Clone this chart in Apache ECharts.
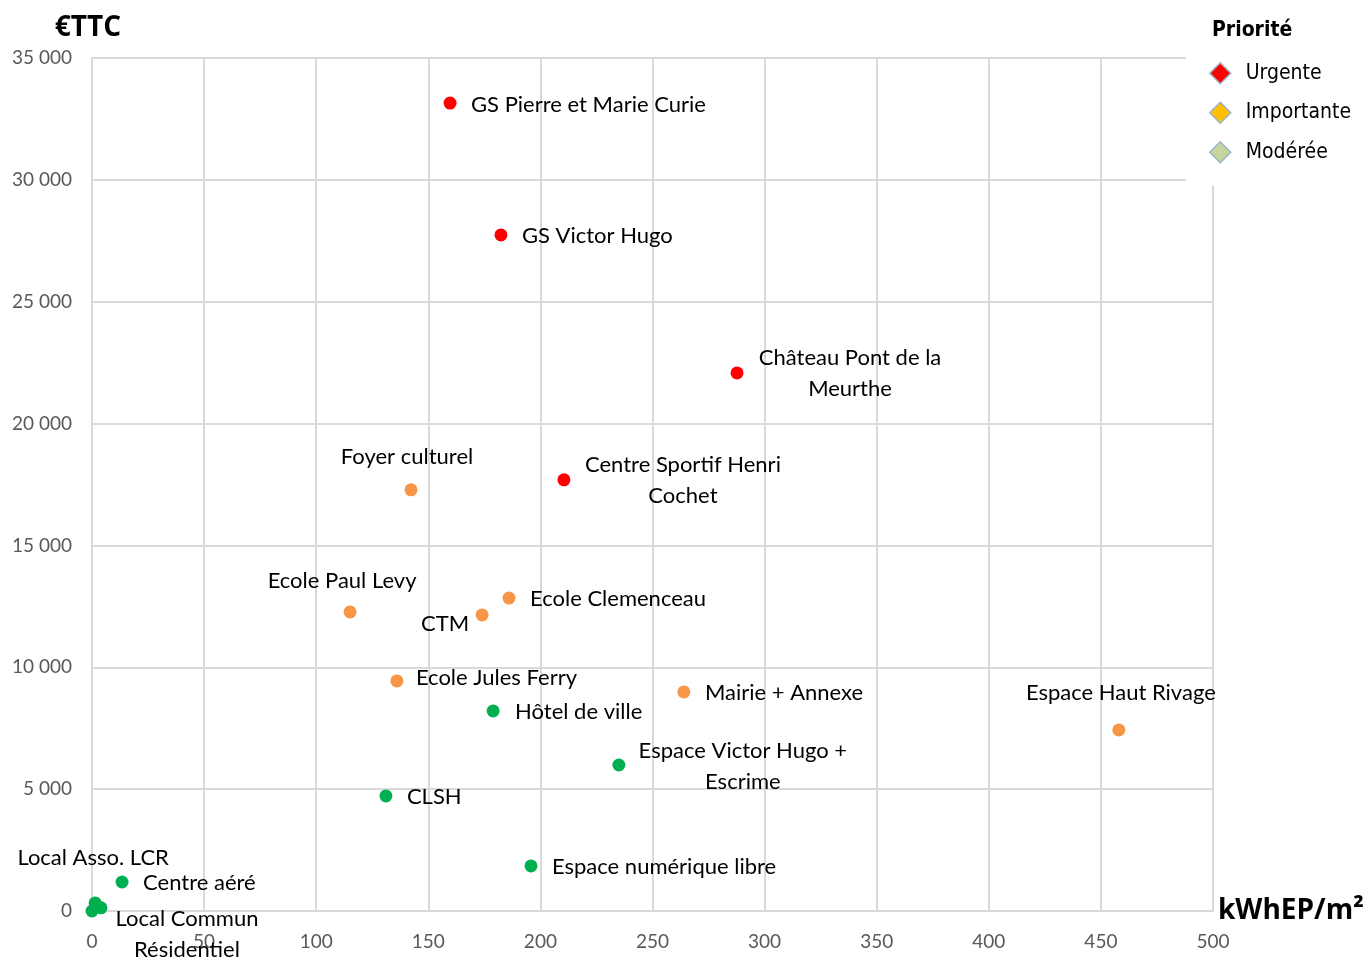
<!DOCTYPE html>
<html>
<head>
<meta charset="utf-8">
<script src="https://cdn.jsdelivr.net/npm/echarts@6/dist/echarts.min.js"></script>
<style>
html,body{margin:0;padding:0;background:#fff;}
#chart{width:1367px;height:960px;}
</style>
</head>
<body>
<div id="chart"></div>
<script>
// ---- Data ----
const priorities = ['Urgente', 'Importante', 'Modérée'];

const urgenteNames = ['GS Pierre et Marie Curie', 'GS Victor Hugo', 'Château Pont de la\nMeurthe', 'Centre Sportif Henri\nCochet'];
const urgenteEnergy = [159.7, 182.4, 287.7, 210.5];
const urgenteCost = [33150, 27740, 22080, 17690];

const importanteNames = ['Foyer culturel', 'Ecole Paul Levy', 'CTM', 'Ecole Clemenceau', 'Ecole Jules Ferry', 'Mairie + Annexe', 'Espace Haut Rivage'];
const importanteEnergy = [142.3, 115.1, 174.0, 186.0, 136.0, 264.0, 458.0];
const importanteCost = [17280, 12270, 12150, 12840, 9440, 8990, 7430];

const modereeNames = ['Hôtel de ville', 'Espace Victor Hugo +\nEscrime', 'CLSH', 'Espace numérique libre', 'Centre aéré', 'Local Asso. LCR', 'Local Commun\nRésidentiel', ''];
const modereeEnergy = [178.9, 235.0, 131.1, 195.8, 13.4, 1.4, 4.0, 0];
const modereeCost = [8210, 5990, 4720, 1850, 1190, 330, 130, 0];

const xTicks = [0, 50, 100, 150, 200, 250, 300, 350, 400, 450, 500];
const yTicks = [0, 5000, 10000, 15000, 20000, 25000, 30000, 35000];

// ---- Styling ----
const dotColors = ['#FF0000', '#F79646', '#00B050'];
const legendColors = ['#FF0000', '#FFC000', '#C3D69B'];
const LABEL_FONT = 'Lato, "Open Sans", sans-serif';
const LEGEND_FONT = '"Liberation Sans Narrow", "DejaVu Sans Condensed", "Roboto Condensed", Roboto, sans-serif';
const SYM = 13;

// label placement: [dx, dy, align] relative to dot centre
const labelPlacement = {
  'GS Pierre et Marie Curie': [21, 2, 'left'],
  'GS Victor Hugo': [21, 1, 'left'],
  'Château Pont de la\nMeurthe': [113, 1, 'center'],
  'Centre Sportif Henri\nCochet': [119, 1, 'center'],
  'Foyer culturel': [-4, -33, 'center'],
  'Ecole Paul Levy': [-8, -31, 'center'],
  'CTM': [-13, 9, 'right'],
  'Ecole Clemenceau': [21, 1, 'left'],
  'Ecole Jules Ferry': [19, -3, 'left'],
  'Mairie + Annexe': [21, 1, 'left'],
  'Espace Haut Rivage': [2, -37, 'center'],
  'Hôtel de ville': [22, 1, 'left'],
  'Espace Victor Hugo +\nEscrime': [124, 1, 'center'],
  'CLSH': [21, 1, 'left'],
  'Espace numérique libre': [21, 1, 'left'],
  'Centre aéré': [21, 1, 'left'],
  'Local Asso. LCR': [-2, -45, 'center'],
  'Local Commun\nRésidentiel': [86, 27, 'center'],
  '': [0, 0, 'left']
};

function buildData(names, xs, ys) {
  return names.map(function (n, i) {
    const p = labelPlacement[n] || [21, 1, 'left'];
    return {
      name: n,
      value: [xs[i], ys[i]],
      label: {
        position: [SYM / 2 + p[0], SYM / 2 + p[1]],
        align: p[2],
        verticalAlign: 'middle'
      }
    };
  });
}

function makeSeries(idx, names, xs, ys) {
  return {
    name: priorities[idx],
    type: 'scatter',
    symbol: 'circle',
    symbolSize: SYM,
    itemStyle: { color: dotColors[idx], opacity: 1 },
    label: {
      show: true,
      formatter: '{b}',
      color: '#000',
      fontFamily: LABEL_FONT,
      fontSize: 22,
      lineHeight: 31
    },
    emphasis: { disabled: true },
    data: buildData(names, xs, ys)
  };
}

function fmtThousands(v) {
  return String(v).replace(/\B(?=(\d{3})+(?!\d))/g, ' ');
}

const chart = echarts.init(document.getElementById('chart'), null, { renderer: 'canvas' });

const gridColor = '#D9D9D9';

chart.setOption({
  animation: false,
  backgroundColor: '#fff',
  title: {
    text: 'Priorité',
    left: 1207,
    top: 15,
    textStyle: { fontFamily: LEGEND_FONT, fontWeight: 'bold', fontSize: 21, color: '#000' }
  },
  legend: {
    orient: 'vertical',
    left: 1186,
    top: 0,
    padding: [62, 30, 22, 23],
    backgroundColor: '#fff',
    itemGap: 17,
    itemWidth: 21,
    itemHeight: 21,
    selectedMode: false,
    textStyle: { fontFamily: LEGEND_FONT, fontSize: 21, color: '#000', padding: [0, 0, 0, 10] },
    data: priorities.map(function (p, i) {
      return {
        name: p,
        icon: 'diamond',
        itemStyle: { color: legendColors[i], borderColor: '#9DB3CC', borderWidth: 1.5 }
      };
    })
  },
  grid: { left: 92, right: 154, top: 58, bottom: 49, containLabel: false, outerBoundsMode: 'none' },
  xAxis: {
    type: 'value',
    min: xTicks[0],
    max: xTicks[xTicks.length - 1],
    interval: xTicks[1] - xTicks[0],
    name: 'kWhEP/m²',
    nameLocation: 'end',
    nameGap: 2,
    nameTextStyle: {
      fontFamily: '"Open Sans", Lato, sans-serif',
      fontWeight: 'bold',
      fontSize: 28,
      color: '#000',
      align: 'left',
      verticalAlign: 'middle',
      backgroundColor: '#fff',
      padding: [14, 6, 0, 3]
    },
    axisLine: { show: true, lineStyle: { color: gridColor, width: 2 } },
    axisTick: { show: false },
    splitLine: { show: true, lineStyle: { color: gridColor, width: 2 } },
    axisLabel: {
      color: '#595959',
      fontFamily: LABEL_FONT,
      fontSize: 19,
      margin: 21
    }
  },
  yAxis: {
    type: 'value',
    min: yTicks[0],
    max: yTicks[yTicks.length - 1],
    interval: yTicks[1] - yTicks[0],
    name: '€TTC',
    nameLocation: 'end',
    nameGap: 16,
    nameTextStyle: {
      fontFamily: '"Open Sans", Lato, sans-serif',
      fontWeight: 'bold',
      fontSize: 28,
      color: '#000',
      align: 'center',
      padding: [0, 8, 0, 0]
    },
    axisLine: { show: true, lineStyle: { color: gridColor, width: 2 } },
    axisTick: { show: false },
    splitLine: { show: true, lineStyle: { color: gridColor, width: 2 } },
    axisLabel: {
      color: '#595959',
      fontFamily: LABEL_FONT,
      fontSize: 19,
      margin: 20,
      formatter: fmtThousands
    }
  },
  series: [
    makeSeries(0, urgenteNames, urgenteEnergy, urgenteCost),
    makeSeries(1, importanteNames, importanteEnergy, importanteCost),
    makeSeries(2, modereeNames, modereeEnergy, modereeCost)
  ]
});
</script>
</body>
</html>
